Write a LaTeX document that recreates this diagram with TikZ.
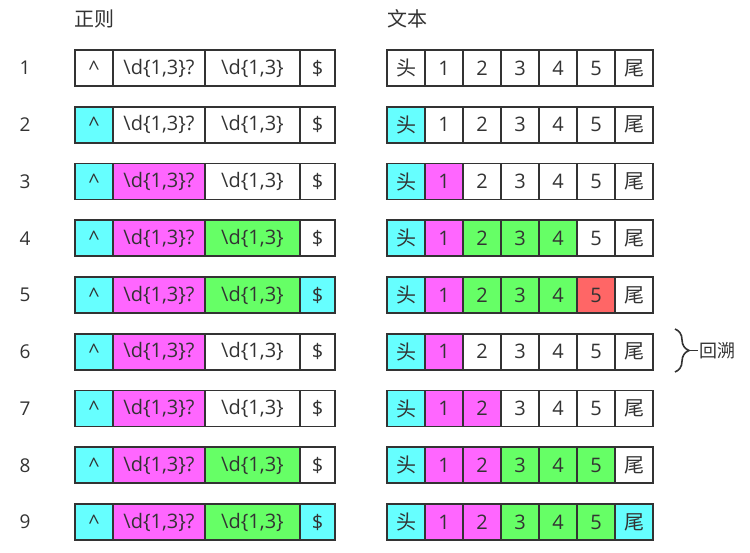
\documentclass[tikz,border=0pt]{standalone}
\usepackage{fontspec}
\setmainfont{Open Sans}
\newfontfamily\cjk{Noto Sans CJK SC}
\usepackage{tikz}
\usetikzlibrary{positioning, decorations.pathreplacing, calc}
\definecolor{cy}{HTML}{66FFFF}
\definecolor{mg}{HTML}{FF66FF}
\definecolor{gn}{HTML}{66FF66}
\definecolor{rd}{HTML}{FF6666}
\definecolor{ink}{HTML}{333333}

\begin{document}
\begin{tikzpicture}[x=1pt, y=-1pt,
    cell/.style={draw=ink, line width=1.6pt, fill=white, minimum height=36pt, inner sep=0pt, outer sep=0pt, text=ink, font=\fontsize{20}{20}\selectfont},
    tcell/.style={cell, minimum width=38pt},
    rowlabel/.style={text=ink, font=\fontsize{19}{19}\selectfont},
    head/.style={text=ink, font=\cjk\fontsize{20}{20}\selectfont}]

\useasboundingbox (0,0) rectangle (750,553);

% Kopfzeile
\node[head] (H1) at (94,19) {正则};
\node[head] (H2) at (407,19) {文本};

% Zeilen: Regex links, Text rechts
\foreach \r/\ca/\cb/\cc/\cd/\ta/\tb/\tc/\td/\te/\tf/\tg in {
    1/white/white/white/white/white/white/white/white/white/white/white,
    2/cy/white/white/white/cy/white/white/white/white/white/white,
    3/cy/mg/white/white/cy/mg/white/white/white/white/white,
    4/cy/mg/gn/white/cy/mg/gn/gn/gn/white/white,
    5/cy/mg/gn/cy/cy/mg/gn/gn/gn/rd/white,
    6/cy/mg/white/white/cy/mg/white/white/white/white/white,
    7/cy/mg/white/white/cy/mg/mg/white/white/white/white,
    8/cy/mg/gn/white/cy/mg/mg/gn/gn/gn/white,
    9/cy/mg/gn/cy/cy/mg/mg/gn/gn/gn/cy}
{
    \pgfmathsetmacro\y{68+(\r-1)*56.75}
    \node[rowlabel] (N\r) at (25,\y) {\r};
    % Regex
    \node[cell, minimum width=38pt, fill=\ca, anchor=west] (P\r-a) at (75,\y) {\textasciicircum};
    \node[cell, minimum width=92pt, fill=\cb, right=0pt of P\r-a] (P\r-b) {\textbackslash d\{1,3\}?};
    \node[cell, minimum width=95pt, fill=\cc, right=0pt of P\r-b] (P\r-c) {\textbackslash d\{1,3\}};
    \node[cell, minimum width=35pt, fill=\cd, right=0pt of P\r-c] (P\r-d) {\$};
    % Text
    \node[tcell, fill=\ta, anchor=west] (T\r-a) at (387,\y) {\cjk 头};
    \node[tcell, fill=\tb, right=0pt of T\r-a] (T\r-b) {1};
    \node[tcell, fill=\tc, right=0pt of T\r-b] (T\r-c) {2};
    \node[tcell, fill=\td, right=0pt of T\r-c] (T\r-d) {3};
    \node[tcell, fill=\te, right=0pt of T\r-d] (T\r-e) {4};
    \node[tcell, fill=\tf, right=0pt of T\r-e] (T\r-f) {5};
    \node[tcell, fill=\tg, right=0pt of T\r-f] (T\r-g) {\cjk 尾};
}

% Klammer
\coordinate (K1) at (675,329);
\coordinate (K2) at (675,372);
\coordinate (K3) at (689,350.5);
\node[text=ink, font=\cjk\fontsize{18}{18}\selectfont, anchor=west, inner sep=1pt] (L1) at (698,350.5) {回溯};
\draw[ink, line width=1.6pt, decorate, decoration={brace, amplitude=14pt}] (K1) -- (K2);
\draw[ink, line width=1.6pt] (K3) -- (L1.west);

\end{tikzpicture}
\end{document}
